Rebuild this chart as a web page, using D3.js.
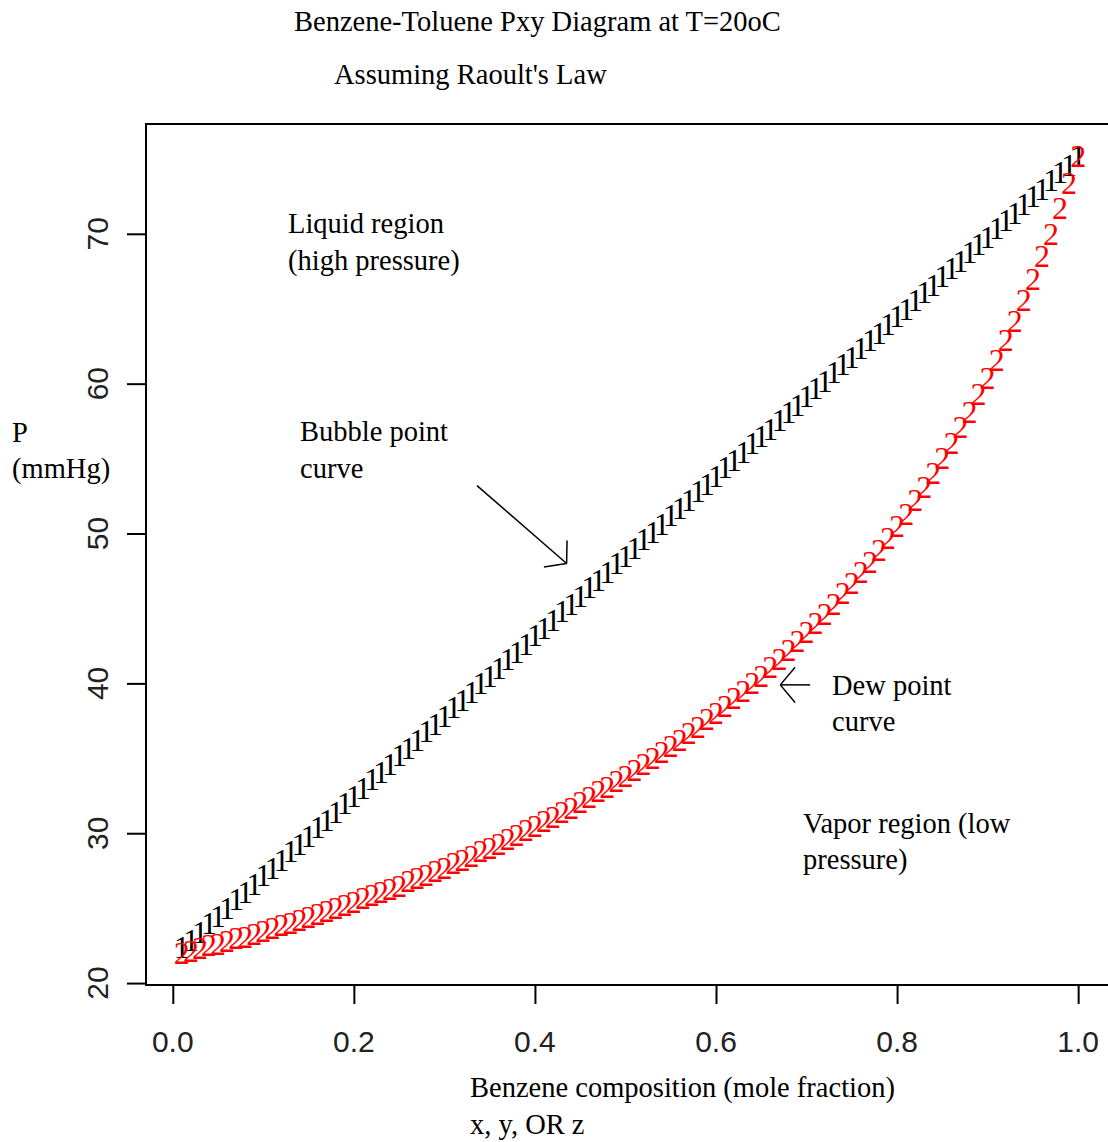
<!DOCTYPE html>
<html>
<head>
<meta charset="utf-8">
<script src="https://cdn.jsdelivr.net/npm/d3@7"></script>
<style>
  body { margin: 0; background: #fff; }
  svg { display: block; }
  .serif { font-family: "Liberation Serif", "Times New Roman", serif; font-size: 28.5px; fill: #000; }
  .sym { font-family: "Liberation Serif", "Times New Roman", serif; font-size: 32px; }
  .tick-lab { font-family: "Liberation Sans", Arial, sans-serif; font-size: 30px; fill: #222; }
</style>
</head>
<body>
<div id="chart"></div>
<script>
// benzene mole fraction (x for liquid, y for vapour)
const xComp = [0.01, 0.02, 0.03, 0.04, 0.05, 0.06, 0.07, 0.08, 0.09, 0.10,
  0.11, 0.12, 0.13, 0.14, 0.15, 0.16, 0.17, 0.18, 0.19, 0.20,
  0.21, 0.22, 0.23, 0.24, 0.25, 0.26, 0.27, 0.28, 0.29, 0.30,
  0.31, 0.32, 0.33, 0.34, 0.35, 0.36, 0.37, 0.38, 0.39, 0.40,
  0.41, 0.42, 0.43, 0.44, 0.45, 0.46, 0.47, 0.48, 0.49, 0.50,
  0.51, 0.52, 0.53, 0.54, 0.55, 0.56, 0.57, 0.58, 0.59, 0.60,
  0.61, 0.62, 0.63, 0.64, 0.65, 0.66, 0.67, 0.68, 0.69, 0.70,
  0.71, 0.72, 0.73, 0.74, 0.75, 0.76, 0.77, 0.78, 0.79, 0.80,
  0.81, 0.82, 0.83, 0.84, 0.85, 0.86, 0.87, 0.88, 0.89, 0.90,
  0.91, 0.92, 0.93, 0.94, 0.95, 0.96, 0.97, 0.98, 0.99, 1.00];

// bubble point pressure (mmHg), plotted with "1"
const pBubble = [22.4, 22.9, 23.4, 24.0, 24.5, 25.0, 25.6, 26.1, 26.6, 27.2,
  27.7, 28.2, 28.8, 29.3, 29.8, 30.4, 30.9, 31.4, 32.0, 32.5,
  33.0, 33.6, 34.1, 34.6, 35.2, 35.7, 36.2, 36.8, 37.3, 37.8,
  38.4, 38.9, 39.4, 40.0, 40.5, 41.0, 41.6, 42.1, 42.6, 43.2,
  43.7, 44.2, 44.8, 45.3, 45.8, 46.4, 46.9, 47.4, 48.0, 48.5,
  49.0, 49.6, 50.1, 50.6, 51.2, 51.7, 52.2, 52.8, 53.3, 53.8,
  54.4, 54.9, 55.4, 56.0, 56.5, 57.0, 57.6, 58.1, 58.6, 59.2,
  59.7, 60.2, 60.8, 61.3, 61.8, 62.4, 62.9, 63.4, 64.0, 64.5,
  65.0, 65.6, 66.1, 66.6, 67.2, 67.7, 68.2, 68.8, 69.3, 69.8,
  70.4, 70.9, 71.4, 72.0, 72.5, 73.0, 73.6, 74.1, 74.6, 75.2];

// dew point pressure (mmHg), plotted with "2"
const pDew = [22.0, 22.1, 22.3, 22.5, 22.6, 22.8, 23.0, 23.1, 23.3, 23.5,
  23.7, 23.9, 24.0, 24.2, 24.4, 24.6, 24.8, 25.0, 25.2, 25.4,
  25.7, 25.9, 26.1, 26.3, 26.5, 26.8, 27.0, 27.2, 27.5, 27.7,
  28.0, 28.2, 28.5, 28.8, 29.0, 29.3, 29.6, 29.9, 30.2, 30.5,
  30.8, 31.1, 31.4, 31.7, 32.1, 32.4, 32.8, 33.1, 33.5, 33.8,
  34.2, 34.6, 35.0, 35.4, 35.8, 36.2, 36.7, 37.1, 37.6, 38.0,
  38.5, 39.0, 39.5, 40.0, 40.5, 41.1, 41.6, 42.2, 42.8, 43.4,
  44.0, 44.6, 45.3, 46.0, 46.7, 47.4, 48.1, 48.9, 49.7, 50.5,
  51.3, 52.2, 53.1, 54.0, 55.0, 56.0, 57.1, 58.1, 59.3, 60.4,
  61.6, 62.9, 64.2, 65.6, 67.0, 68.5, 70.0, 71.7, 73.4, 75.2];

const xTicks = [0.0, 0.2, 0.4, 0.6, 0.8, 1.0];
const yTicks = [20, 30, 40, 50, 60, 70];

const width = 1108, height = 1142;
const box = {left: 146, right: 1114, top: 124, bottom: 985};

const svg = d3.select('#chart').append('svg')
    .attr('width', width)
    .attr('height', height);

// R-style limits: data range plus 4% each side
function padExtent(ext) {
    const d = (ext[1] - ext[0]) * 0.04;
    return [ext[0] - d, ext[1] + d];
}
const x = d3.scaleLinear()
    .domain(padExtent(d3.extent(xComp)))
    .range([box.left, box.right]);
const y = d3.scaleLinear()
    .domain(padExtent(d3.extent(pBubble.concat(pDew))))
    .range([box.bottom, box.top]);

// plot box
svg.append('rect')
    .attr('x', box.left).attr('y', box.top)
    .attr('width', box.right - box.left)
    .attr('height', box.bottom - box.top)
    .attr('fill', 'none')
    .attr('stroke', '#000')
    .attr('stroke-width', 2);

// axes (ticks only, labels drawn by hand so y can be rotated)
const xAxis = svg.append('g')
    .attr('transform', 'translate(0,' + box.bottom + ')')
    .call(d3.axisBottom(x).tickValues(xTicks).tickSize(19).tickFormat(''));
const yAxis = svg.append('g')
    .attr('transform', 'translate(' + box.left + ',0)')
    .call(d3.axisLeft(y).tickValues(yTicks).tickSize(19).tickFormat(''));
[xAxis, yAxis].forEach(g => {
    g.select('.domain').remove();
    g.selectAll('.tick line').attr('stroke', '#000').attr('stroke-width', 2);
});

svg.selectAll('text.xlab')
    .data(xTicks)
    .join('text')
    .attr('class', 'tick-lab xlab')
    .attr('x', d => x(d))
    .attr('y', 1052)
    .attr('text-anchor', 'middle')
    .text(d => d3.format('.1f')(d));

svg.selectAll('text.ylab')
    .data(yTicks)
    .join('text')
    .attr('class', 'tick-lab ylab')
    .attr('transform', d => 'translate(108,' + y(d) + ') rotate(-90)')
    .attr('text-anchor', 'middle')
    .text(d => d);

// points: character symbols like matplot
const bubblePts = xComp.map((v, i) => ({x: v, p: pBubble[i]}));
const dewPts = xComp.map((v, i) => ({x: v, p: pDew[i]}));

svg.append('g').selectAll('text')
    .data(bubblePts)
    .join('text')
    .attr('class', 'sym')
    .style('fill', '#000')
    .attr('x', d => x(d.x))
    .attr('y', d => y(d.p))
    .attr('dy', '0.34em')
    .attr('text-anchor', 'middle')
    .text('1');

svg.append('g').selectAll('text')
    .data(dewPts)
    .join('text')
    .attr('class', 'sym')
    .style('fill', '#ff0000')
    .attr('x', d => x(d.x))
    .attr('y', d => y(d.p))
    .attr('dy', '0.34em')
    .attr('text-anchor', 'middle')
    .text('2');

// titles and annotations
const labels = [
    {t: 'Benzene-Toluene Pxy Diagram at T=20oC', x: 294, y: 31},
    {t: "Assuming Raoult's Law", x: 334, y: 84},
    {t: 'Liquid region', x: 288, y: 233},
    {t: '(high pressure)', x: 288, y: 270},
    {t: 'Bubble point', x: 300, y: 441},
    {t: 'curve', x: 300, y: 478},
    {t: 'P', x: 12, y: 442},
    {t: '(mmHg)', x: 12, y: 478},
    {t: 'Dew point', x: 832, y: 695},
    {t: 'curve', x: 832, y: 731},
    {t: 'Vapor region (low', x: 803, y: 833},
    {t: 'pressure)', x: 803, y: 869},
    {t: 'Benzene composition (mole fraction)', x: 470, y: 1097},
    {t: 'x, y, OR z', x: 470, y: 1134}
];
svg.selectAll('text.note')
    .data(labels)
    .join('text')
    .attr('class', 'serif note')
    .attr('x', d => d.x)
    .attr('y', d => d.y)
    .text(d => d.t);

// arrows, in data units: [x0, p0, x1, p1]
const arrows = [
    [0.336, 53.2, 0.435, 48.0],
    [0.704, 39.9, 0.671, 39.9]
];
arrows.forEach(a => {
    const x0 = x(a[0]), y0 = y(a[1]), x1 = x(a[2]), y1 = y(a[3]);
    const ang = Math.atan2(y0 - y1, x0 - x1);
    const len = 23, spread = 50 * Math.PI / 180;
    const g = svg.append('g').attr('stroke', '#000').attr('stroke-width', 1.5).attr('fill', 'none');
    g.append('line').attr('x1', x0).attr('y1', y0).attr('x2', x1).attr('y2', y1);
    [-spread, spread].forEach(s => {
        g.append('line')
            .attr('x1', x1).attr('y1', y1)
            .attr('x2', x1 + len * Math.cos(ang + s))
            .attr('y2', y1 + len * Math.sin(ang + s));
    });
});
</script>
</body>
</html>
